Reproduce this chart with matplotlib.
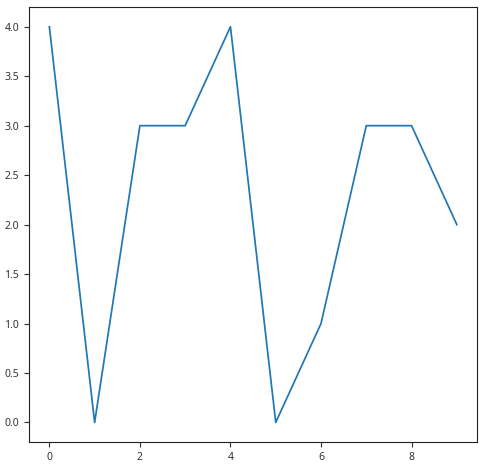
import matplotlib
matplotlib.use("Agg")
import matplotlib.pyplot as plt

plt.rcParams['font.family'] = ['Noto Sans', 'DejaVu Sans']

x_vals = list(range(10))
y_vals = [4, 0, 3, 3, 4, 0, 1, 3, 3, 2]

fig = plt.figure(figsize=(4.83, 4.65), dpi=100)
ax = fig.add_axes([0.060, 0.049, 0.928, 0.936])
ax.plot(x_vals, y_vals, color='#1f77b4', linewidth=1.25)

ax.tick_params(labelsize=7.5, colors='#333333', labelcolor='#333333')
for sp in ax.spines.values():
    sp.set_color('#222222')
    sp.set_linewidth(0.8)

fig.savefig("out.png", dpi=100)
